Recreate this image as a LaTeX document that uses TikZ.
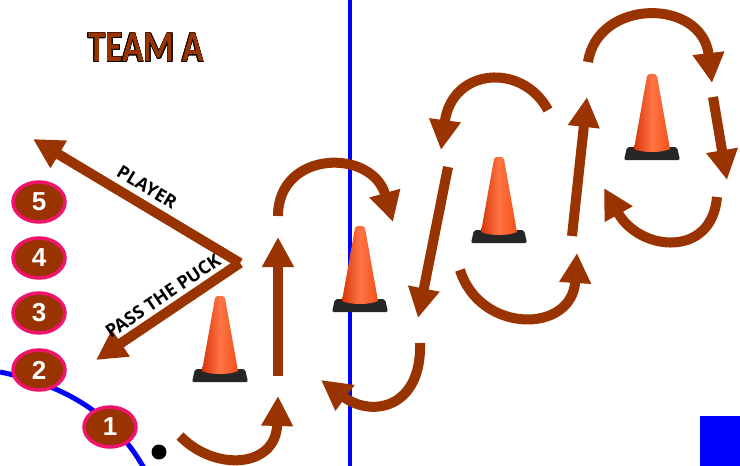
\documentclass[tikz,border=0pt]{standalone}
\usepackage{fontspec}
\usepackage{contour}
\usetikzlibrary{arrows.meta,shapes.geometric}

\newfontfamily\titlefont{Carlito}
\newfontfamily\labelfont{Open Sans}
\newfontfamily\numfont{Liberation Sans}

\definecolor{puck}{HTML}{993300}
\definecolor{rim}{HTML}{F0146E}
\definecolor{rink}{HTML}{0000FF}
\definecolor{conedark}{HTML}{D8360A}
\definecolor{conelight}{HTML}{FF7444}
\definecolor{conemid}{HTML}{F5501A}

\contourlength{0.7pt}

\tikzset{
  skate/.style={puck, line width=10pt, -{Triangle[length=30pt,width=30pt]}},
  player/.style={ellipse, fill=puck, draw=rim, line width=3.5pt,
    minimum width=52pt, minimum height=40pt, inner sep=0pt, text=white,
    font=\numfont\bfseries\fontsize{26}{26}\selectfont},
  drilltext/.style={font=\labelfont\bfseries\fontsize{18}{18}\selectfont},
  cone/.pic={
    % rubber base
    \fill[black!85, rounded corners=2pt] (-28,0) -- (-25,-13) -- (25,-13) -- (28,0) -- cycle;
    % orange body
    \shade[left color=conedark, right color=conemid, middle color=conelight]
      (-18,-11) -- (-5,-84) .. controls (-4,-87) and (4,-87) .. (5,-84)
      -- (18,-11) .. controls (10,-7) and (-10,-7) .. (-18,-11) -- cycle;
  }
}

\begin{document}
\begin{tikzpicture}[x=1pt,y=-1pt]
\fill[white] (0,0) rectangle (740,466);
\useasboundingbox (0,0) rectangle (740,466);

% rink lines
\draw[rink, line width=4pt] (350,0) -- (350,466);
\draw[rink, line width=5pt] (0,372) .. controls (65,385) and (115,415) .. (145,470);
\fill[rink] (700,416) rectangle (740,466);

% cones
\pic at (220,382) {cone};
\pic at (360,312) {cone};
\pic at (499,243) {cone};
\pic at (652,160) {cone};

% puck
\fill (159,452) circle (7.5);

% skating path
\draw[skate] (180,436) .. controls (215,472) and (276,468) .. (278,396);
\draw[skate] (278,376) -- (278,237);
\draw[skate] (278,216) .. controls (278,150) and (372,148) .. (393,222);
\draw[skate] (420,343) .. controls (422,408) and (372,418) .. (321,380);
\draw[skate] (448,167) -- (418,318);
\draw[skate] (548,110) .. controls (522,62) and (452,68) .. (441,150);
\draw[skate] (460,270) .. controls (480,334) and (572,334) .. (577,253);
\draw[skate] (572,236) -- (587,97);
\draw[skate] (588,62) .. controls (598,-2) and (702,-2) .. (712,83);
\draw[skate] (713,97) -- (727,180);
\draw[skate] (717,197) .. controls (712,258) and (640,252) .. (604,188);

% player and pass
\coordinate (pivot) at (240,263);
\coordinate (playertip) at (33,139);
\coordinate (passtip) at (96,360);
\draw[skate] (pivot) -- (playertip);
\draw[skate] (pivot) -- (passtip);
\node[drilltext, rotate=-31] (playerlbl) at (147,187) {PLAYER};
\node[drilltext, rotate=34] (passlbl) at (163,296) {PASS THE PUCK};

% line-up
\node[player] (p5) at (39,202) {5};
\node[player] (p4) at (39,258) {4};
\node[player] (p3) at (39,313) {3};
\node[player] (p2) at (39,370) {2};
\node[player] (p1) at (110,427) {1};

\node[xscale=0.8] (title) at (146,48)
  {\titlefont\bfseries\fontsize{44}{44}\selectfont\contour{black}{\textcolor{puck}{TEAM A}}};
\end{tikzpicture}
\end{document}
